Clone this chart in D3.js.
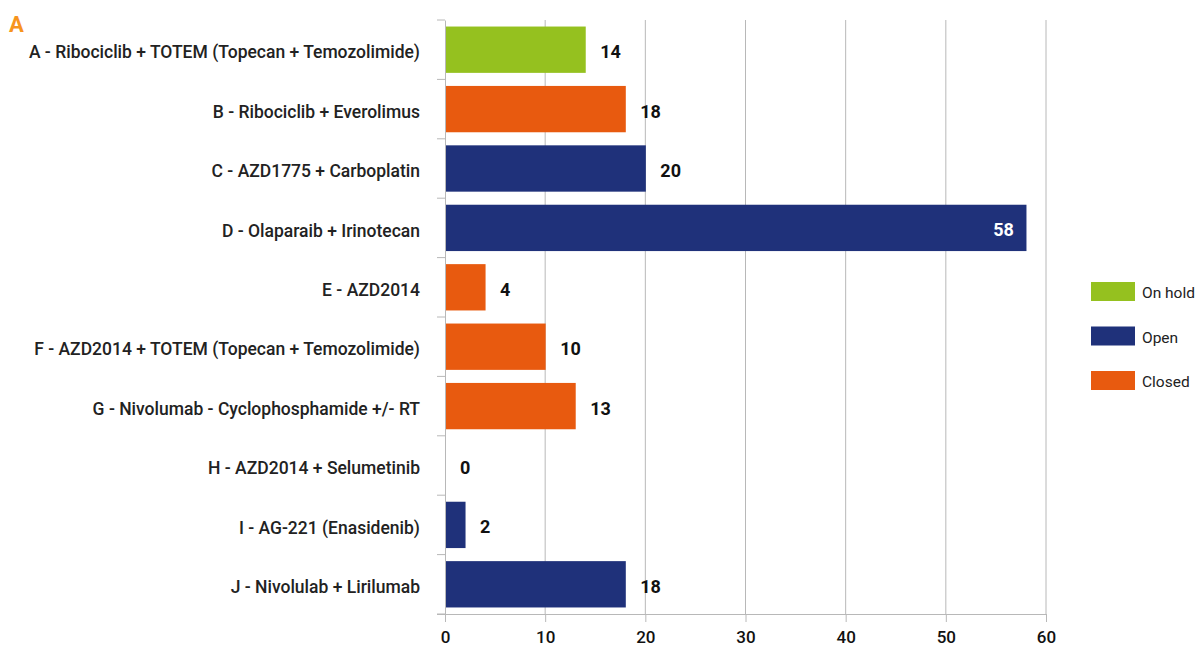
<!DOCTYPE html>
<html>
<head>
<meta charset="utf-8">
<script src="https://cdn.jsdelivr.net/npm/d3@7"></script>
<style>
  html, body { margin: 0; padding: 0; background: #fff; }
  svg { display: block; font-family: Roboto, "Noto Sans", sans-serif; }
</style>
</head>
<body>
<svg id="chart" width="1198" height="648"></svg>
<script>
// Trial arms, patient counts and status
const arms = [
  "A - Ribociclib + TOTEM (Topecan + Temozolimide)",
  "B - Ribociclib + Everolimus",
  "C - AZD1775 + Carboplatin",
  "D - Olaparaib + Irinotecan",
  "E - AZD2014",
  "F - AZD2014 + TOTEM (Topecan + Temozolimide)",
  "G - Nivolumab - Cyclophosphamide +/- RT",
  "H - AZD2014 + Selumetinib",
  "I - AG-221 (Enasidenib)",
  "J - Nivolulab + Lirilumab"
];
const patients = [14, 18, 20, 58, 4, 10, 13, 0, 2, 18];
const status = ["On hold", "Closed", "Open", "Open", "Closed", "Closed", "Closed", "Closed", "Open", "Open"];
const statusKeys = ["On hold", "Open", "Closed"];
const statusColors = ["#95c11f", "#1f317a", "#e85a0f"];
const xTicks = [0, 10, 20, 30, 40, 50, 60];

const svg = d3.select("#chart");
const margin = { left: 445, right: 152, top: 20, bottom: 34 };
const width = 1198, height = 648;

const x = d3.scaleLinear().domain([0, 60]).range([margin.left, width - margin.right]);
const y = d3.scaleBand().domain(arms).range([margin.top, height - margin.bottom]).paddingInner(0.22).paddingOuter(0.11);
const color = d3.scaleOrdinal().domain(statusKeys).range(statusColors);

// Vertical gridlines
svg.append("g")
  .selectAll("line")
  .data(xTicks.slice(1))
  .join("line")
  .attr("x1", d => x(d)).attr("x2", d => x(d))
  .attr("y1", margin.top).attr("y2", height - margin.bottom)
  .attr("stroke", "#b8b8b8").attr("stroke-width", 1);

// Bars
svg.append("g")
  .selectAll("rect")
  .data(arms)
  .join("rect")
  .attr("x", x(0) + 0.5)
  .attr("y", d => y(d))
  .attr("width", (d, i) => Math.max(0, x(patients[i]) - x(0)))
  .attr("height", y.bandwidth())
  .attr("fill", (d, i) => color(status[i]));

// Category axis on the left
const yAxis = svg.append("g")
  .attr("transform", `translate(${x(0)},0)`)
  .call(d3.axisLeft(y).tickSize(0).tickPadding(25));
yAxis.select(".domain").attr("stroke", "#b8b8b8");
yAxis.selectAll("text")
  .attr("dy", "0.5em")
  .attr("font-size", 17.5).attr("font-weight", 500).attr("fill", "#222")
  .attr("font-family", "Roboto, sans-serif");
// Band separator ticks
const edges = arms.map(a => y(a) - y.step() * y.paddingInner() / 2);
edges.push(height - margin.bottom);
svg.append("g")
  .selectAll("line")
  .data(edges)
  .join("line")
  .attr("x1", x(0) - 8).attr("x2", x(0))
  .attr("y1", d => d).attr("y2", d => d)
  .attr("stroke", "#b8b8b8");

// Value axis at the bottom
const xAxis = svg.append("g")
  .attr("transform", `translate(0,${height - margin.bottom})`)
  .call(d3.axisBottom(x).tickValues(xTicks).tickSize(8).tickPadding(9));
xAxis.select(".domain").attr("stroke", "#b8b8b8").attr("d", `M${x(0) - 8},0.5H${x(60)}`);
xAxis.selectAll(".tick line").attr("stroke", "#b8b8b8");
xAxis.selectAll("text")
  .attr("font-size", 17).attr("font-weight", 500).attr("fill", "#111")
  .attr("font-family", "Roboto, sans-serif");

// Value labels
svg.append("g")
  .selectAll("text")
  .data(arms)
  .join("text")
  .each(function(d, i) {
    const v = patients[i];
    const inside = v > 40;
    d3.select(this)
      .attr("x", inside ? x(v) - 12 : x(v) + 15)
      .attr("y", y(d) + y.bandwidth() / 2 + 8.5)
      .attr("text-anchor", inside ? "end" : "start")
      .attr("fill", inside ? "#fff" : "#111")
      .text(v);
  })
  .attr("font-size", 18).attr("font-weight", 700);

// Legend
const legend = svg.append("g")
  .selectAll("g")
  .data(statusKeys)
  .join("g")
  .attr("transform", (d, i) => `translate(1091,${282 + i * 44.5})`);
legend.append("rect")
  .attr("width", 44).attr("height", 19)
  .attr("fill", d => color(d));
legend.append("text")
  .attr("x", 51).attr("y", 16)
  .attr("font-size", 15.5).attr("fill", "#222")
  .text(d => d);

// Panel letter
svg.append("text")
  .attr("x", 9).attr("y", 32)
  .attr("font-size", 22).attr("font-weight", 700)
  .attr("fill", "#f7941d")
  .text("A");
</script>
</body>
</html>
